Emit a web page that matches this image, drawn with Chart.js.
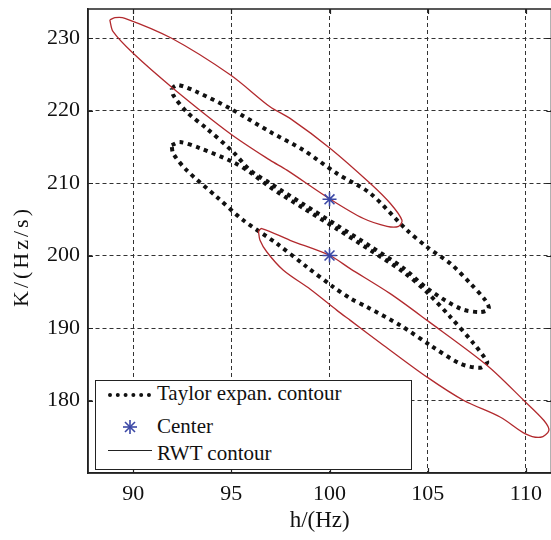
<!DOCTYPE html>
<html>
<head>
<meta charset="utf-8">
<script src="https://cdn.jsdelivr.net/npm/chart.js@4/dist/chart.umd.min.js"></script>
<style>
  html, body { margin: 0; background: #fff; overflow: hidden; }
  #wrap { position: relative; width: 620px; height: 540px; }
  #legend { position: absolute; left: 95px; top: 380px; width: 317px; height: 90px;
    border: 1.5px solid #222; background: #fff; box-sizing: border-box; }
  #legend span { position: absolute; left: 61px; font: 21px/21px 'Liberation Serif', serif; color: #111; white-space: nowrap; }
  .dots { position: absolute; left: 12px; width: 43px; top: 12px; border-top: 4px dotted #111; }
  .solid { position: absolute; left: 12px; width: 44px; top: 69px; border-top: 1.3px solid #222; }
  #legend svg { position: absolute; left: 26px; top: 38px; }
</style>
</head>
<body>
<div id="wrap">
  <canvas id="myChart" width="551" height="540"></canvas>
  <div id="legend">
    <div class="dots"></div>
    <span style="top:2px">Taylor expan. contour</span>
    <svg width="16" height="16" viewBox="-8 -8 16 16">
      <g stroke="#3b48a6" stroke-width="1.6">
        <line x1="0" y1="-7" x2="0" y2="7"/><line x1="-7" y1="0" x2="7" y2="0"/>
        <line x1="-5" y1="-5" x2="5" y2="5"/><line x1="-5" y1="5" x2="5" y2="-5"/>
      </g>
    </svg>
    <span style="top:35px">Center</span>
    <div class="solid"></div>
    <span style="top:62px">RWT contour</span>
  </div>
</div>
<script>
// axis ticks
const xTicks = [90, 95, 100, 105, 110];
const yTicks = [180, 190, 200, 210, 220, 230];

// RWT contour, upper loop (h, K)
const rwt1H = [88.81, 89.07, 89.58, 91.96, 94.96, 96.97, 97.99, 100.04, 102.08, 103.10, 103.69, 103.52,
               102.93, 101.73, 100.04, 97.83, 96.97, 94.93, 92.04, 90.00, 88.98, 88.81];
const rwt1K = [232.49, 232.80, 232.72, 229.96, 224.89, 220.51, 218.91, 214.77, 209.93, 207.17, 204.86, 204.03,
               204.03, 205.10, 207.76, 211.77, 213.15, 216.84, 223.05, 227.89, 230.87, 232.49];

// RWT contour, lower loop
const rwt2H = [96.38, 96.55, 97.99, 100.00, 101.05, 103.09, 104.97, 108.03, 109.90, 110.92, 111.17, 110.75,
               109.98, 108.71, 106.84, 104.97, 102.76, 101.06, 100.38, 99.02, 97.65, 96.81, 96.46, 96.38];
const rwt2K = [203.38, 203.72, 202.10, 200.03, 198.19, 194.74, 191.05, 184.83, 180.00, 177.24, 175.86, 174.93,
               175.40, 177.69, 180.00, 183.22, 187.60, 191.05, 192.43, 195.34, 197.96, 200.48, 202.10, 203.38];

// Taylor expansion contour, upper loop
const tay1H = [91.96, 92.30, 93.23, 94.93, 96.97, 98.67, 100.38, 102.08, 103.95, 104.97, 106.16, 107.18, 107.94, 108.11,
               107.69, 106.67, 104.97, 103.78, 102.08, 100.38, 98.67, 96.97, 95.95, 95.10, 93.74, 92.72, 92.04, 91.96];
const tay1K = [223.09, 223.51, 222.58, 220.29, 217.06, 214.53, 211.31, 208.55, 203.48, 201.17, 198.88, 196.12, 193.81, 192.67,
               192.20, 192.67, 195.47, 198.23, 201.27, 204.17, 207.07, 209.97, 211.77, 214.25, 217.53, 219.82, 222.13, 223.09];

// Taylor expansion contour, lower loop
const tay2H = [91.96, 92.38, 93.40, 95.10, 95.95, 96.97, 98.67, 100.38, 102.08, 103.78, 104.97, 106.16, 107.35, 107.94, 108.03,
               107.69, 106.67, 105.14, 103.61, 101.91, 101.06, 100.20, 98.85, 97.32, 95.61, 94.26, 92.72, 92.04, 91.96];
const tay2K = [215.22, 215.64, 214.81, 212.87, 211.49, 209.42, 206.52, 203.66, 200.72, 197.68, 194.92, 191.51, 187.83, 185.76, 185.25,
               184.52, 185.07, 187.60, 190.36, 192.89, 194.09, 195.65, 198.41, 201.64, 204.86, 208.08, 211.77, 214.07, 215.22];

// centers
const centerH = [100, 100];
const centerK = [207.75, 200];

const toPts = (hs, ks) => hs.map((h, i) => ({ x: h, y: ks[i] }));

Chart.defaults.font.family = "'Liberation Serif', 'Times New Roman', serif";
Chart.defaults.color = '#111';

// box round the plot, short inward tick marks, and the spaced-out y title
const frame = {
    id: 'frame',
    afterDraw(chart) {
        const { ctx, chartArea: a, scales } = chart;
        ctx.save();
        ctx.strokeStyle = '#222';
        ctx.lineWidth = 1.5;
        ctx.strokeRect(a.left, a.top, a.right - a.left, a.bottom - a.top);
        ctx.beginPath();
        xTicks.forEach(v => {
            const px = Math.round(scales.x.getPixelForValue(v)) + 0.5;
            ctx.moveTo(px, a.bottom); ctx.lineTo(px, a.bottom - 5);
            ctx.moveTo(px, a.top); ctx.lineTo(px, a.top + 5);
        });
        yTicks.forEach(v => {
            const py = Math.round(scales.y.getPixelForValue(v)) + 0.5;
            ctx.moveTo(a.left, py); ctx.lineTo(a.left + 5, py);
            ctx.moveTo(a.right, py); ctx.lineTo(a.right - 5, py);
        });
        ctx.lineWidth = 1.2;
        ctx.stroke();

        ctx.translate(22, 258);
        ctx.rotate(-Math.PI / 2);
        ctx.font = "22px 'Liberation Serif', serif";
        ctx.fillStyle = '#111';
        ctx.textAlign = 'center';
        ctx.textBaseline = 'middle';
        ctx.letterSpacing = '3px';
        ctx.fillText('K/(Hz/s)', 1.5, 0);
        ctx.restore();
    }
};

const contour = (label, hs, ks, style) => Object.assign({
    label: label,
    data: toPts(hs, ks),
    showLine: true,
    pointRadius: 0,
    tension: 0.3,
    fill: false
}, style);

const dotted = { borderColor: '#111', borderWidth: 4, borderDash: [4, 4.5], order: 3 };
const red = { borderColor: '#b22a2e', borderWidth: 1.3, order: 2 };

const noPad = s => { s.paddingLeft = 0; s.paddingRight = 0; s.paddingTop = 0; s.paddingBottom = 0; };

const canvas = document.getElementById('myChart');
const chart = new Chart(canvas, {
    type: 'scatter',
    data: {
        datasets: [
            contour('Taylor expan. contour', tay1H, tay1K, dotted),
            contour('Taylor expan. contour 2', tay2H, tay2K, dotted),
            contour('RWT contour', rwt1H, rwt1K, red),
            contour('RWT contour 2', rwt2H, rwt2K, red),
            {
                label: 'Center',
                data: toPts(centerH, centerK),
                pointStyle: 'star',
                pointRadius: 7,
                borderWidth: 1.6,
                borderColor: '#3b48a6',
                backgroundColor: '#3b48a6',
                order: 0
            }
        ]
    },
    options: {
        responsive: false,
        maintainAspectRatio: false,
        animation: false,
        devicePixelRatio: 1,
        layout: { padding: { top: 9, left: 0, right: 0, bottom: 0 } },
        plugins: { legend: { display: false }, tooltip: { enabled: false } },
        scales: {
            x: {
                type: 'linear',
                min: 87.7,
                max: 111.3,
                afterBuildTicks: s => { s.ticks = xTicks.map(v => ({ value: v })); },
                afterFit: s => { s.height = 67; noPad(s); },
                grid: { color: '#333', lineWidth: 1, drawTicks: false },
                border: { color: '#222', width: 1.5, dash: [4, 3] },
                ticks: { padding: 8, font: { size: 22 } },
                title: { display: true, text: 'h/(Hz)', font: { size: 23 }, padding: { bottom: 5 } }
            },
            y: {
                type: 'linear',
                min: 170,
                max: 234,
                afterBuildTicks: s => { s.ticks = yTicks.map(v => ({ value: v })); },
                afterFit: s => { s.width = 88; noPad(s); },
                grid: { color: '#333', lineWidth: 1, drawTicks: false },
                border: { color: '#222', width: 1.5, dash: [4, 3] },
                ticks: { padding: 8, font: { size: 22 } },
                title: { display: false }
            }
        }
    },
    plugins: [frame]
});

// the plot box runs off the right edge of the 551px picture
const gap = 551 - chart.chartArea.right;
if (gap > 0.5) chart.resize(551 + Math.round(gap), 540);
</script>
</body>
</html>
